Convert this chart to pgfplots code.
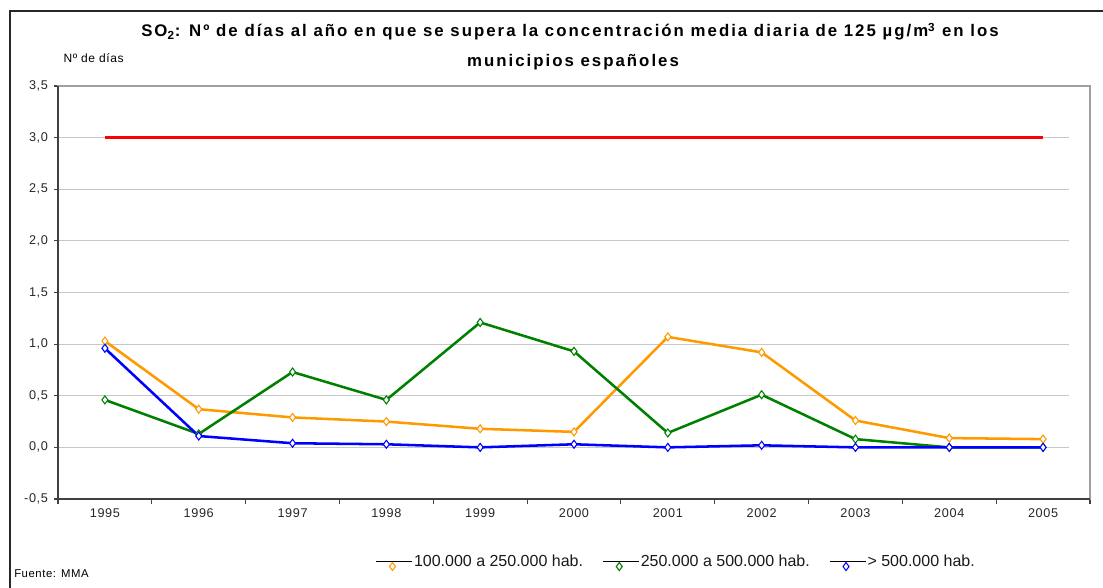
\documentclass[border=0pt]{standalone}
\usepackage{fontspec}
\setmainfont{Liberation Sans}
\newfontfamily\titlefont{Liberation Sans}[LetterSpace=12]
\newfontfamily\tickfont{Liberation Sans}[LetterSpace=5]
\newfontfamily\legfont{Liberation Sans}
\usepackage{pgfplots}
\pgfplotsset{compat=1.18}
\definecolor{cOrange}{HTML}{FF9900}
\definecolor{cGreen}{HTML}{008000}
\definecolor{cBlue}{HTML}{0000FF}
\definecolor{cRed}{HTML}{FF0000}
\definecolor{axdark}{HTML}{404040}
\definecolor{axlight}{HTML}{A0A0A0}
\definecolor{gridc}{HTML}{C8C8C8}

\pgfplotstableread{
x y
0 1.03
1 0.37
2 0.29
3 0.25
4 0.18
5 0.15
6 1.07
7 0.92
8 0.26
9 0.09
10 0.08
}\tOrange
\pgfplotstableread{
x y
0 0.46
1 0.13
2 0.73
3 0.46
4 1.21
5 0.93
6 0.14
7 0.51
8 0.08
9 0.00
10 0.00
}\tGreen
\pgfplotstableread{
x y
0 0.96
1 0.11
2 0.04
3 0.03
4 0.00
5 0.03
6 0.00
7 0.02
8 0.00
9 0.00
10 0.00
}\tBlue
\pgfplotstableread{
x y
0 3.0
1 3.0
2 3.0
3 3.0
4 3.0
5 3.0
6 3.0
7 3.0
8 3.0
9 3.0
10 3.0
}\tRed

\begin{document}
\begin{tikzpicture}
\useasboundingbox (0pt,0pt) rectangle (827.25pt,440.25pt);
% outer frame
\draw[black!85, line width=1.1pt] (7.5pt,-2pt) -- (7.5pt,432pt) -- (830pt,432pt);
% title
\node[anchor=base, inner sep=0pt] at (427.5pt,412.5pt) {\titlefont\bfseries\fontsize{12.6}{14}\selectfont SO\textsubscript{2}: Nº de días al año en que se supera la concentración media diaria de 125 µg/m\textsuperscript{3} en los};
\node[anchor=base, inner sep=0pt] at (429.75pt,390.5pt) {\titlefont\bfseries\fontsize{12.6}{14}\selectfont municipios españoles};
\node[anchor=base west, inner sep=0pt] at (47.5pt,393pt) {\tickfont\fontsize{9}{10}\selectfont Nº de días};
\node[anchor=base west, inner sep=0pt] at (10.5pt,7.5pt) {\tickfont\fontsize{8.5}{10}\selectfont Fuente: MMA};

\begin{axis}[
  at={(43.5pt,66pt)}, anchor=south west,
  scale only axis, width=774pt, height=309.75pt,
  xmin=-0.5, xmax=10.5, ymin=-0.5, ymax=3.5,
  xtick={0,...,10},
  xticklabels={1995,1996,1997,1998,1999,2000,2001,2002,2003,2004,2005},
  minor xtick={-0.5,0.5,...,10.5},
  ytick={-0.5,0,0.5,1,1.5,2,2.5,3,3.5},
  yticklabels={{-0,5},{0,0},{0,5},{1,0},{1,5},{2,0},{2,5},{3,0},{3,5}},
  tick align=outside,
  major tick length=3pt, minor tick length=3.5pt,
  major x tick style={draw=none},
  every tick/.style={axdark, line width=0.8pt},
  minor x tick style={axdark, line width=0.8pt},
  ytick pos=left, xtick pos=bottom,
  axis line style={draw=axlight, line width=1.2pt},
  ticklabel style={font=\tickfont\fontsize{9.5}{11}\selectfont, text=black!85},
  xticklabel style={yshift=-1pt},
  yticklabel style={xshift=-1pt},
  clip=false,
  legend columns=3,
  legend style={at={(0.3075,-0.1525)}, anchor=west, draw=none, fill=none, inner sep=0pt,
    font=\legfont\fontsize{12}{14}\selectfont, text=black!90,
    nodes={inner xsep=0.5pt, inner ysep=1pt},
    /tikz/every odd column/.append style={column sep=0pt},
    /tikz/every even column/.append style={column sep=14pt}},
  legend image code/.code={
    \draw[black, line width=1.3pt] (0pt,0pt) -- (27pt,0pt);
    \draw[#1] plot coordinates {(12pt,-3.75pt)};
  },
  after end axis/.code={
    \draw[axdark, line width=1.3pt] (rel axis cs:0,1) -- (rel axis cs:0,0) -- (rel axis cs:1,0);
  },
]
\pgfplotsinvokeforeach{0,0.5,1,1.5,2,2.5,3}{
  \draw[gridc, line width=0.8pt] (axis cs:-0.5,#1) -- (axis cs:10.28,#1);
}
\addplot[cRed, line width=1.9pt, no marks, forget plot] table[x=x,y=y] {\tRed};
\addplot[cOrange, line width=1.9pt, mark=diamond*, mark size=3pt,
  mark options={draw=cOrange, fill=white, line width=0.8pt}] table[x=x,y=y] {\tOrange};
\addlegendentry{100.000 a 250.000 hab.}
\addplot[cGreen, line width=1.9pt, mark=diamond*, mark size=3pt,
  mark options={draw=cGreen, fill=white, line width=0.8pt}] table[x=x,y=y] {\tGreen};
\addlegendentry{250.000 a 500.000 hab.}
\addplot[cBlue, line width=1.9pt, mark=diamond*, mark size=3pt,
  mark options={draw=cBlue, fill=white, line width=0.8pt}] table[x=x,y=y] {\tBlue};
\addlegendentry{> 500.000 hab.}
\end{axis}
\end{tikzpicture}
\end{document}
